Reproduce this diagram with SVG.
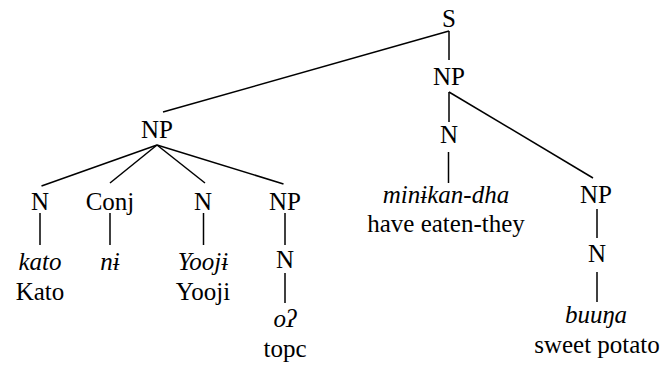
<svg xmlns="http://www.w3.org/2000/svg" width="663" height="366" viewBox="0 0 663 366">
<style>
text{font-family:'Liberation Serif','DejaVu Serif',serif;font-size:25px;fill:#000;text-anchor:middle}
.i{font-style:italic}
#edges line{stroke:#000;stroke-width:1.5;fill:none}
</style>
<rect width="663" height="366" fill="#fff"/>
<g id="edges">
<line x1="449" y1="31" x2="163" y2="112"/>
<line x1="449" y1="31" x2="449" y2="60"/>
<line x1="449" y1="92" x2="449" y2="122"/>
<line x1="449" y1="92" x2="593" y2="178"/>
<line x1="157" y1="145" x2="41.5" y2="186"/>
<line x1="157" y1="145" x2="110" y2="183"/>
<line x1="157" y1="145" x2="205" y2="183"/>
<line x1="157" y1="145" x2="283.5" y2="184"/>
<line x1="40" y1="213" x2="40" y2="245"/>
<line x1="110" y1="213" x2="110" y2="245"/>
<line x1="203.5" y1="213" x2="203.5" y2="245"/>
<line x1="285" y1="213" x2="285" y2="245"/>
<line x1="285" y1="273" x2="285" y2="303"/>
<line x1="448.5" y1="152" x2="448.5" y2="183"/>
<line x1="597" y1="209" x2="597" y2="238"/>
<line x1="597" y1="272" x2="597" y2="302"/>
</g>
<g font-family="Liberation Serif, DejaVu Serif, serif">
<g id="S"><text x="449" y="27">S</text></g>
<g id="NP-right"><text x="449" y="85">NP</text></g>
<g id="NP-left"><text x="157" y="138">NP</text></g>
<g id="N-verb"><text x="449" y="143">N</text></g>
<g id="verb"><text class="i" x="446" y="203">minɨkan-dha</text><text x="446" y="232">have eaten-they</text></g>
<g id="NP-obj"><text x="596" y="203">NP</text></g>
<g id="N-obj"><text x="597" y="262">N</text></g>
<g id="obj"><text class="i" x="596" y="323">buuŋa</text><text x="597" y="353">sweet potato</text></g>
<g id="N-kato"><text x="40" y="210">N</text></g>
<g id="kato"><text class="i" x="40" y="270">kato</text><text x="40" y="300">Kato</text></g>
<g id="Conj"><text x="110" y="210">Conj</text></g>
<g id="ni"><text class="i" x="110" y="270">nɨ</text></g>
<g id="N-yooji"><text x="203" y="210">N</text></g>
<g id="yooji"><text class="i" x="203" y="270">Yoojɨ</text><text x="203" y="300">Yooji</text></g>
<g id="NP-topc"><text x="285" y="210">NP</text></g>
<g id="N-topc"><text x="285" y="268">N</text></g>
<g id="topc"><text class="i" x="285" y="327">oʔ</text><text x="285" y="357">topc</text></g>
</g>
</svg>
